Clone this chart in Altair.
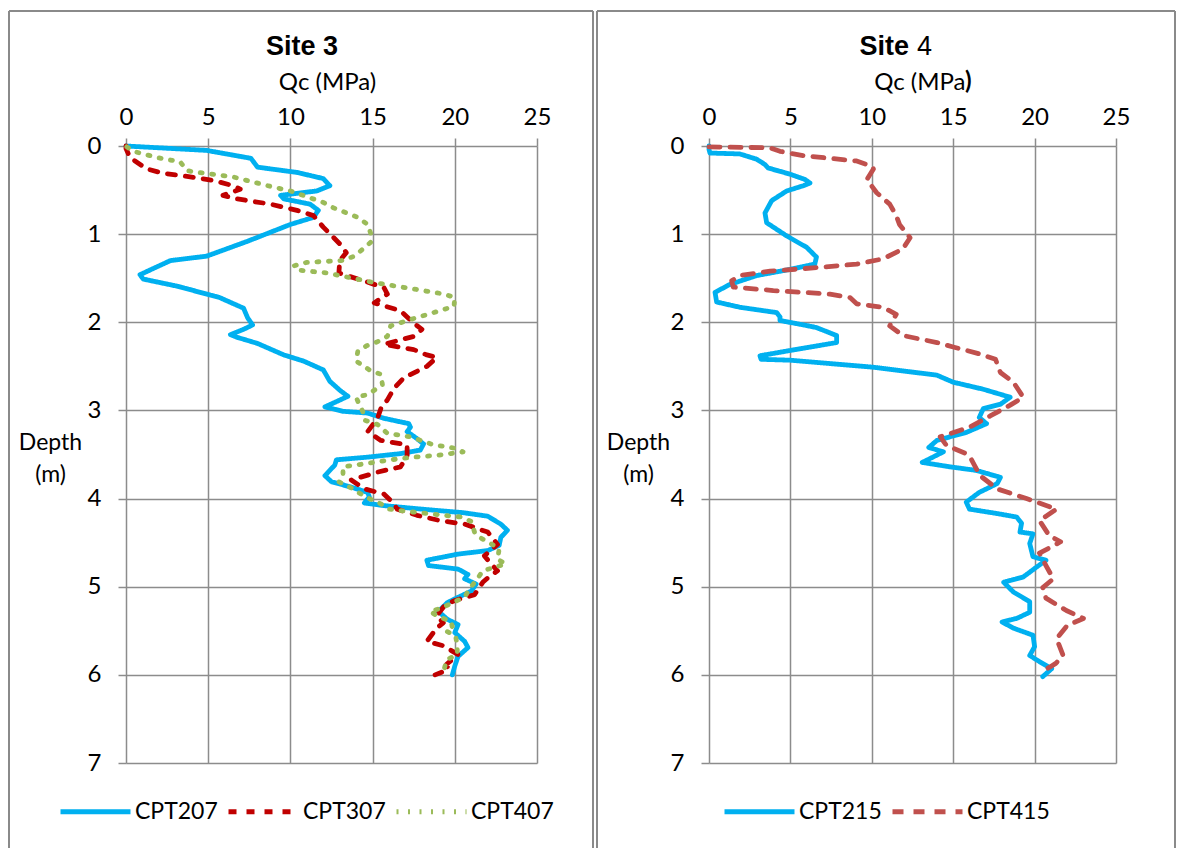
import altair as alt
import pandas as pd

# ---------------- data ----------------
SITE3_SERIES = ["CPT207", "CPT307", "CPT407"]
SITE4_SERIES = ["CPT215", "CPT415"]
X_TICKS = [0, 5, 10, 15, 20, 25]
Y_TICKS = [0, 1, 2, 3, 4, 5, 6, 7]

CPT207_DEPTH = [0.00, 0.05, 0.14, 0.24, 0.30, 0.37, 0.45, 0.51, 0.56, 0.60, 0.66, 0.73, 0.81, 0.89, 1.08, 1.25,
                1.30, 1.46, 1.51, 1.59, 1.72, 1.84, 1.95, 2.03, 2.08, 2.14, 2.17, 2.24, 2.37, 2.44, 2.54, 2.67,
                2.77, 2.84, 2.90, 2.96, 3.01, 3.03, 3.09, 3.15, 3.19, 3.24, 3.32, 3.38, 3.45, 3.49, 3.53, 3.56,
                3.62, 3.74, 3.81, 3.87, 3.93, 3.98, 4.05, 4.08, 4.12, 4.16, 4.20, 4.29, 4.36, 4.44, 4.53, 4.59,
                4.63, 4.70, 4.76, 4.80, 4.86, 4.91, 4.97, 5.05, 5.12, 5.18, 5.28, 5.37, 5.43, 5.52, 5.62, 5.69,
                5.79, 5.90, 6.00]
CPT207_QC = [0.0, 4.9, 7.6, 8.0, 10.4, 12.0, 12.4, 11.6, 9.4, 9.6, 11.2, 11.7, 11.4, 10.0, 7.4, 4.9,
             2.7, 0.85, 1.05, 3.1, 5.7, 7.15, 7.4, 7.7, 7.15, 6.35, 6.75, 8.0, 9.6, 10.8, 12.0, 12.4,
             13.0, 13.5, 12.8, 12.1, 13.2, 14.7, 15.7, 17.2, 17.3, 17.1, 17.7, 18.1, 17.9, 16.7, 14.7, 12.8,
             12.7, 12.1, 12.5, 13.7, 14.7, 14.8, 14.5, 15.7, 18.0, 20.5, 22.0, 22.8, 23.2, 22.8, 22.7, 22.0,
             20.2, 18.3, 18.4, 20.2, 20.8, 20.6, 21.3, 21.0, 20.2, 19.55, 19.0, 19.55, 20.2, 20.0, 20.6, 20.8,
             20.2, 20.0, 19.85]

CPT307_DEPTH = [0.00, 0.03, 0.13, 0.26, 0.31, 0.35, 0.39, 0.45, 0.49, 0.56, 0.60, 0.66, 0.73, 0.79, 0.92, 1.11,
                1.21, 1.30, 1.44, 1.51, 1.53, 1.61, 1.68, 1.78, 1.87, 2.01, 2.08, 2.16, 2.25, 2.31, 2.37, 2.40,
                2.50, 2.63, 2.75, 2.88, 2.98, 3.09, 3.24, 3.34, 3.39, 3.51, 3.58, 3.64, 3.70, 3.79, 3.89, 3.95,
                4.06, 4.12, 4.19, 4.25, 4.29, 4.38, 4.52, 4.65, 4.74, 4.82, 4.90, 4.95, 5.09, 5.16, 5.22, 5.33,
                5.41, 5.47, 5.62, 5.67, 5.77, 5.88, 5.94, 6.00]
CPT307_QC = [0.0, 0.0, 0.24, 1.26, 2.27, 3.9, 5.3, 6.5, 6.95, 5.9, 6.75, 8.8, 10.4, 11.4, 12.0, 13.0,
             13.4, 13.0, 12.95, 14.1, 14.5, 15.7, 15.9, 15.1, 16.7, 17.5, 18.0, 17.5, 15.7, 17.5, 18.3, 18.9,
             18.3, 16.9, 16.3, 15.9, 15.5, 15.3, 14.7, 15.5, 17.1, 17.1, 16.9, 16.7, 15.3, 13.7, 14.5, 15.7,
             16.3, 16.5, 17.7, 19.1, 20.6, 22.0, 22.6, 21.8, 22.2, 22.6, 22.0, 21.7, 21.2, 19.95, 19.35, 18.9,
             19.3, 18.9, 18.3, 19.3, 20.2, 19.5, 19.6, 18.8]

CPT407_DEPTH = [0.01, 0.06, 0.13, 0.18, 0.28, 0.30, 0.35, 0.45, 0.51, 0.64, 0.70, 0.81, 0.89, 1.00, 1.09, 1.25,
                1.30, 1.32, 1.36, 1.41, 1.44, 1.55, 1.61, 1.68, 1.72, 1.82, 1.89, 1.97, 2.04, 2.16, 2.22, 2.27,
                2.33, 2.44, 2.54, 2.59, 2.71, 2.82, 2.85, 2.94, 3.01, 3.11, 3.16, 3.26, 3.30, 3.39, 3.43, 3.47,
                3.51, 3.53, 3.56, 3.60, 3.64, 3.72, 3.81, 3.88, 3.95, 4.00, 4.06, 4.12, 4.15, 4.21, 4.26, 4.38,
                4.44, 4.50, 4.57, 4.69, 4.74, 4.78, 4.82, 4.93, 5.02, 5.12, 5.18, 5.24, 5.28, 5.34, 5.39, 5.45,
                5.50, 5.56, 5.67, 5.77, 5.83, 5.94]
CPT407_QC = [0.05, 0.45, 1.87, 3.3, 3.7, 4.4, 6.5, 8.6, 10.0, 12.0, 12.6, 14.1, 14.7, 14.9, 14.9, 13.9,
             13.1, 11.0, 10.2, 10.6, 12.2, 15.1, 17.1, 19.35, 20.0, 19.95, 18.7, 17.3, 16.1, 15.9, 15.3, 14.6,
             14.1, 14.0, 14.8, 15.5, 15.6, 14.7, 14.0, 14.2, 14.4, 14.5, 15.3, 15.9, 17.3, 18.7, 20.05, 20.5,
             18.9, 17.5, 16.1, 14.7, 13.2, 13.2, 12.95, 13.7, 14.3, 14.8, 15.5, 16.0, 17.3, 20.4, 21.0, 21.2,
             21.5, 22.1, 22.7, 22.6, 23.1, 22.4, 21.7, 21.3, 20.9, 20.6, 19.85, 19.25, 18.5, 19.0, 19.75, 19.85,
             19.45, 20.05, 20.15, 20.15, 19.5, 19.35]

CPT215_DEPTH = [0.00, 0.04, 0.08, 0.09, 0.15, 0.21, 0.25, 0.32, 0.38, 0.42, 0.45, 0.51, 0.62, 0.76, 0.87, 1.02,
                1.15, 1.26, 1.34, 1.40, 1.47, 1.57, 1.66, 1.77, 1.83, 1.89, 1.94, 1.98, 2.03, 2.06, 2.15, 2.23,
                2.32, 2.38, 2.42, 2.43, 2.51, 2.60, 2.68, 2.76, 2.85, 2.93, 2.98, 3.08, 3.15, 3.25, 3.34, 3.42,
                3.47, 3.59, 3.64, 3.68, 3.76, 3.83, 3.93, 4.04, 4.12, 4.17, 4.21, 4.28, 4.38, 4.40, 4.51, 4.66,
                4.70, 4.78, 4.89, 4.95, 5.06, 5.17, 5.29, 5.36, 5.40, 5.47, 5.55, 5.68, 5.78, 5.85, 5.93, 6.02]
CPT215_QC = [0.0, 0.0, 0.06, 1.9, 2.93, 3.44, 3.64, 4.98, 5.9, 6.2, 5.8, 4.77, 3.85, 3.44, 3.54, 4.77,
             6.0, 6.6, 6.5, 4.98, 2.93, 1.29, 0.37, 0.47, 1.9, 4.16, 4.36, 4.36, 5.8, 6.6, 7.84, 7.84,
             4.98, 3.13, 3.2, 4.98, 10.1, 14.0, 15.0, 16.85, 18.5, 17.9, 16.85, 16.6, 17.05, 15.8, 14.0, 13.5,
             14.4, 13.1, 14.8, 16.4, 17.9, 17.7, 16.6, 15.8, 16.0, 17.7, 18.9, 19.2, 19.1, 19.9, 19.7, 19.9,
             20.7, 20.1, 19.3, 18.1, 18.7, 19.7, 19.7, 18.9, 18.0, 18.7, 19.9, 20.0, 19.7, 20.3, 21.05, 20.5]

CPT415_DEPTH = [0.01, 0.02, 0.06, 0.11, 0.17, 0.23, 0.26, 0.38, 0.53, 0.66, 0.79, 0.89, 1.04, 1.17, 1.28, 1.34,
                1.38, 1.42, 1.47, 1.53, 1.60, 1.64, 1.68, 1.72, 1.79, 1.83, 1.91, 2.04, 2.15, 2.23, 2.28, 2.36,
                2.42, 2.57, 2.68, 2.85, 2.94, 3.06, 3.19, 3.30, 3.40, 3.49, 3.55, 3.74, 3.89, 4.00, 4.12, 4.25,
                4.42, 4.49, 4.62, 4.76, 4.91, 5.01, 5.13, 5.27, 5.36, 5.44, 5.59, 5.78, 5.87, 5.91, 5.98]
CPT415_QC = [0.0, 3.75, 4.36, 5.8, 9.07, 10.0, 10.1, 9.7, 10.3, 11.1, 11.5, 11.7, 12.35, 11.9, 10.7, 9.07,
             6.6, 3.75, 1.9, 1.39, 1.49, 3.95, 7.43, 8.66, 9.07, 10.7, 11.5, 11.1, 11.9, 14.0, 15.0, 16.65,
             17.6, 17.9, 18.7, 19.3, 18.5, 17.3, 16.0, 14.2, 14.6, 15.8, 16.1, 16.65, 17.7, 19.5, 21.35, 20.3,
             20.9, 21.6, 20.3, 20.7, 21.15, 20.5, 20.7, 21.95, 23.0, 22.0, 21.35, 21.75, 21.3, 20.95, 20.3]

SITE3_COLORS = ["#00B0F0", "#C00000", "#9BBB59"]
SITE4_COLORS = ["#00B0F0", "#C0504D"]

# ---------------- styling ----------------
FONT = "Lato"
GRID = "#8c8c8c"
FRAME = "#8a8a8a"
TXT = 24


def long_df(names, depths, qcs):
    rows = []
    for n, ds, qs in zip(names, depths, qcs):
        for i, (d, q) in enumerate(zip(ds, qs)):
            rows.append({"series": n, "depth": d, "qc": q, "idx": i})
    return pd.DataFrame(rows)


def text_layer(label, x, y, bold=False, align="center", size=TXT, font=FONT):
    return alt.Chart(pd.DataFrame({"label": [label]})).mark_text(
        font=font, fontSize=size, fontWeight="bold" if bold else "normal",
        align=align, baseline="middle", color="black"
    ).encode(text="label:N", x=alt.value(x), y=alt.value(y))


def frame_layers(fx, fx2):
    one = pd.DataFrame({"f": [0]})
    top = alt.Chart(one).mark_rule(color=FRAME, strokeWidth=2).encode(
        x=alt.value(fx), x2=alt.value(fx2), y=alt.value(-135))
    lft = alt.Chart(one).mark_rule(color=FRAME, strokeWidth=2).encode(
        x=alt.value(fx), y=alt.value(-135), y2=alt.value(702))
    rgt = alt.Chart(one).mark_rule(color=FRAME, strokeWidth=2).encode(
        x=alt.value(fx2), y=alt.value(-135), y2=alt.value(702))
    return [top, lft, rgt]


def panel(df, names, colors, dashes, width, height, frame_x, frame_x2, x_title, x_title_x,
          x_title_align, depth_x, legend_x, extras):
    leg = alt.Legend(
        orient="none", legendX=legend_x, legendY=628, direction="horizontal", title=None,
        symbolType="stroke", symbolSize=4900, symbolStrokeWidth=5, labelFont=FONT,
        labelFontSize=23, labelColor="black", columnPadding=0, labelOffset=2, padding=0,
    )
    lines = alt.Chart(df).mark_line(strokeWidth=4.8, strokeCap="round", strokeJoin="round").encode(
        x=alt.X("qc:Q", scale=alt.Scale(domain=[0, 25], nice=False, zero=False),
                axis=alt.Axis(orient="top", values=X_TICKS, title=x_title, titleFont=FONT,
                              titleFontSize=TXT, titleFontWeight="normal", titleColor="black",
                              titleX=x_title_x, titleY=-64, titleAlign=x_title_align,
                              titleBaseline="middle", labelFont=FONT, labelFontSize=TXT,
                              labelColor="black", labelPadding=9, tickSize=8, tickColor=GRID,
                              tickWidth=1.5, domain=False, grid=True, gridColor=GRID,
                              gridWidth=1.5, gridOpacity=1, labelFlush=False)),
        y=alt.Y("depth:Q", scale=alt.Scale(domain=[0, 7], reverse=True, nice=False, zero=False),
                axis=alt.Axis(orient="left", values=Y_TICKS, title=["Depth", "(m)"], titleFont=FONT,
                              titleFontSize=23, titleFontWeight="normal", titleColor="black",
                              titleAngle=0, titleX=depth_x, titleY=296, titleAlign="center",
                              titleBaseline="middle", titleLineHeight=32, labelFont=FONT,
                              labelFontSize=TXT, labelColor="black", labelPadding=17, tickSize=8,
                              tickColor=GRID, tickWidth=1.5, domain=False, grid=True, gridColor=GRID,
                              gridWidth=1.5, gridOpacity=1, labelFlush=False)),
        color=alt.Color("series:N", scale=alt.Scale(domain=names, range=colors), legend=leg),
        strokeDash=alt.StrokeDash("series:N", scale=alt.Scale(domain=names, range=dashes), legend=leg),
        order=alt.Order("idx:Q"),
    )
    return alt.layer(*frame_layers(frame_x, frame_x2), lines, *extras).properties(width=width, height=height)


df3 = long_df(SITE3_SERIES, [CPT207_DEPTH, CPT307_DEPTH, CPT407_DEPTH], [CPT207_QC, CPT307_QC, CPT407_QC])
df4 = long_df(SITE4_SERIES, [CPT215_DEPTH, CPT415_DEPTH], [CPT215_QC, CPT415_QC])

left = panel(
    df3, SITE3_SERIES, SITE3_COLORS, [[1, 0], [8, 10], [2, 9.5]], 411, 617,
    -117, 467, "Qc (MPa)", 201, "center", -76, -68,
    [text_layer("Site 3", 176, -99, bold=True, size=27, font="Liberation Sans")],
)
right = panel(
    df4, SITE4_SERIES, SITE4_COLORS, [[1, 0], [11, 10]], 407, 617,
    -112, 466, "Qc (MPa", 256, "right", -71, 13,
    [text_layer("Site", 200, -99, bold=True, align="right", size=27, font="Liberation Sans"),
     text_layer("4", 208, -99, bold=False, align="left", size=27, font="Liberation Sans"),
     text_layer(")", 256, -64, bold=True, align="left")],
)

chart = alt.hconcat(left, right, spacing=2).resolve_scale(
    x="independent", y="independent", color="independent", strokeDash="independent"
).resolve_legend(color="independent", strokeDash="independent").properties(
    padding={"left": 8, "top": 10, "right": 2, "bottom": 0},
    background="white",
).configure_view(strokeWidth=0)

chart.save("out.html", embed_options={"renderer": "svg", "actions": False})
